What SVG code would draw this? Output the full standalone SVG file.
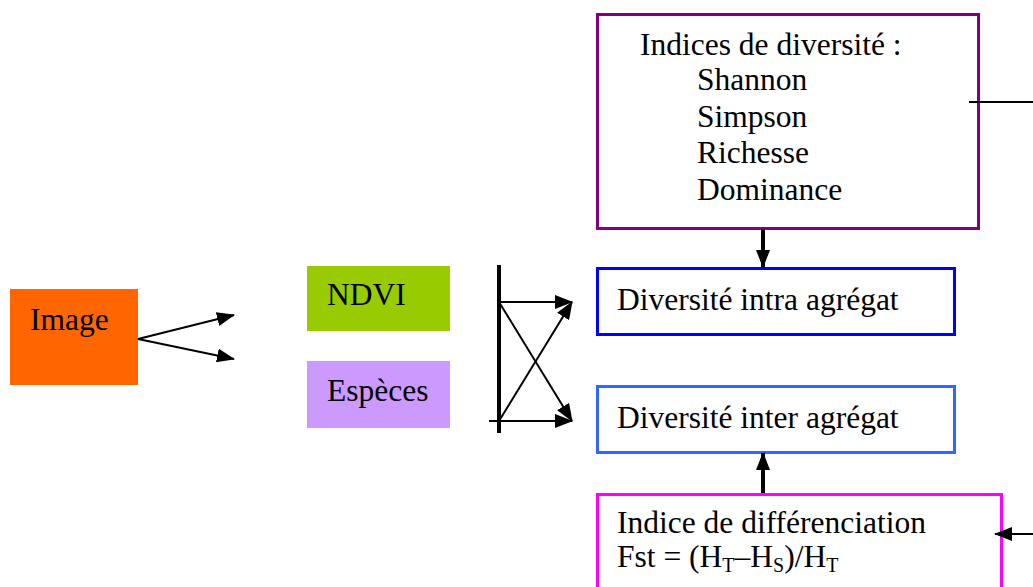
<svg xmlns="http://www.w3.org/2000/svg" width="1033" height="587" viewBox="0 0 1033 587">
<style>
text { font-family: "Liberation Serif", "Times New Roman", serif; font-size: 31.5px; fill: #000; }
.c { stroke: #000; stroke-width: 2; fill: none; }
.thick { stroke: #000; stroke-width: 4; fill: none; }
</style>
<defs>
<marker id="ah" markerUnits="userSpaceOnUse" markerWidth="18" markerHeight="14" refX="17" refY="7" orient="auto">
<path d="M0,0 L18,7 L0,14 Z" fill="#000"/>
</marker>
</defs>
<rect width="1033" height="587" fill="#fff"/>
<g id="image">
<rect x="10" y="289" width="128" height="96" fill="#FF6600"/>
<text x="30" y="330">Image</text>
</g>
<g id="ndvi">
<rect x="307" y="266" width="143" height="65" fill="#99CC00"/>
<text x="327" y="305">NDVI</text>
</g>
<g id="especes">
<rect x="307" y="361" width="143" height="67" fill="#CC99FF"/>
<text x="327" y="401">Espèces</text>
</g>
<g id="indices">
<rect x="597.5" y="14.5" width="381" height="214" fill="#fff" stroke="#800080" stroke-width="3"/>
<text x="640" y="55">Indices de diversité :</text>
<text x="697" y="90">Shannon</text>
<text x="697" y="127">Simpson</text>
<text x="697" y="163">Richesse</text>
<text x="697" y="200">Dominance</text>
</g>
<g id="intra">
<rect x="597.5" y="268.5" width="357" height="66" fill="#fff" stroke="#0000FF" stroke-width="3"/>
<text x="617" y="310">Diversité intra agrégat</text>
</g>
<g id="inter">
<rect x="597.5" y="386.5" width="357" height="66" fill="#fff" stroke="#3366FF" stroke-width="3"/>
<text x="617" y="428">Diversité inter agrégat</text>
</g>
<g id="differenciation">
<rect x="597.5" y="494.5" width="404" height="100" fill="#fff" stroke="#FF00FF" stroke-width="3"/>
<text x="617" y="533">Indice de différenciation</text>
<text x="617" y="567">Fst = (H<tspan font-size="20" dy="5">T</tspan><tspan dy="-5">–H</tspan><tspan font-size="20" dy="5">S</tspan><tspan dy="-5">)/H</tspan><tspan font-size="20" dy="5">T</tspan></text>
</g>
<g id="connectors">
<line class="c" x1="138" y1="339" x2="234" y2="315" marker-end="url(#ah)"/>
<line class="c" x1="138" y1="339" x2="234" y2="359" marker-end="url(#ah)"/>
<line class="thick" x1="499" y1="265" x2="499" y2="433"/>
<line class="c" x1="499" y1="302" x2="572" y2="302" marker-end="url(#ah)"/>
<line class="c" x1="489" y1="421" x2="572" y2="421" marker-end="url(#ah)"/>
<line class="c" x1="499" y1="302" x2="572" y2="421" marker-end="url(#ah)"/>
<line class="c" x1="499" y1="421" x2="572" y2="302" marker-end="url(#ah)"/>
<line class="thick" x1="763" y1="229" x2="763" y2="267" marker-end="url(#ah)"/>
<line class="thick" x1="763" y1="493" x2="763" y2="453" marker-end="url(#ah)"/>
<line class="c" x1="969" y1="102" x2="1033" y2="102"/>
<line class="c" x1="1033" y1="534" x2="995" y2="534" marker-end="url(#ah)"/>
</g>
</svg>
